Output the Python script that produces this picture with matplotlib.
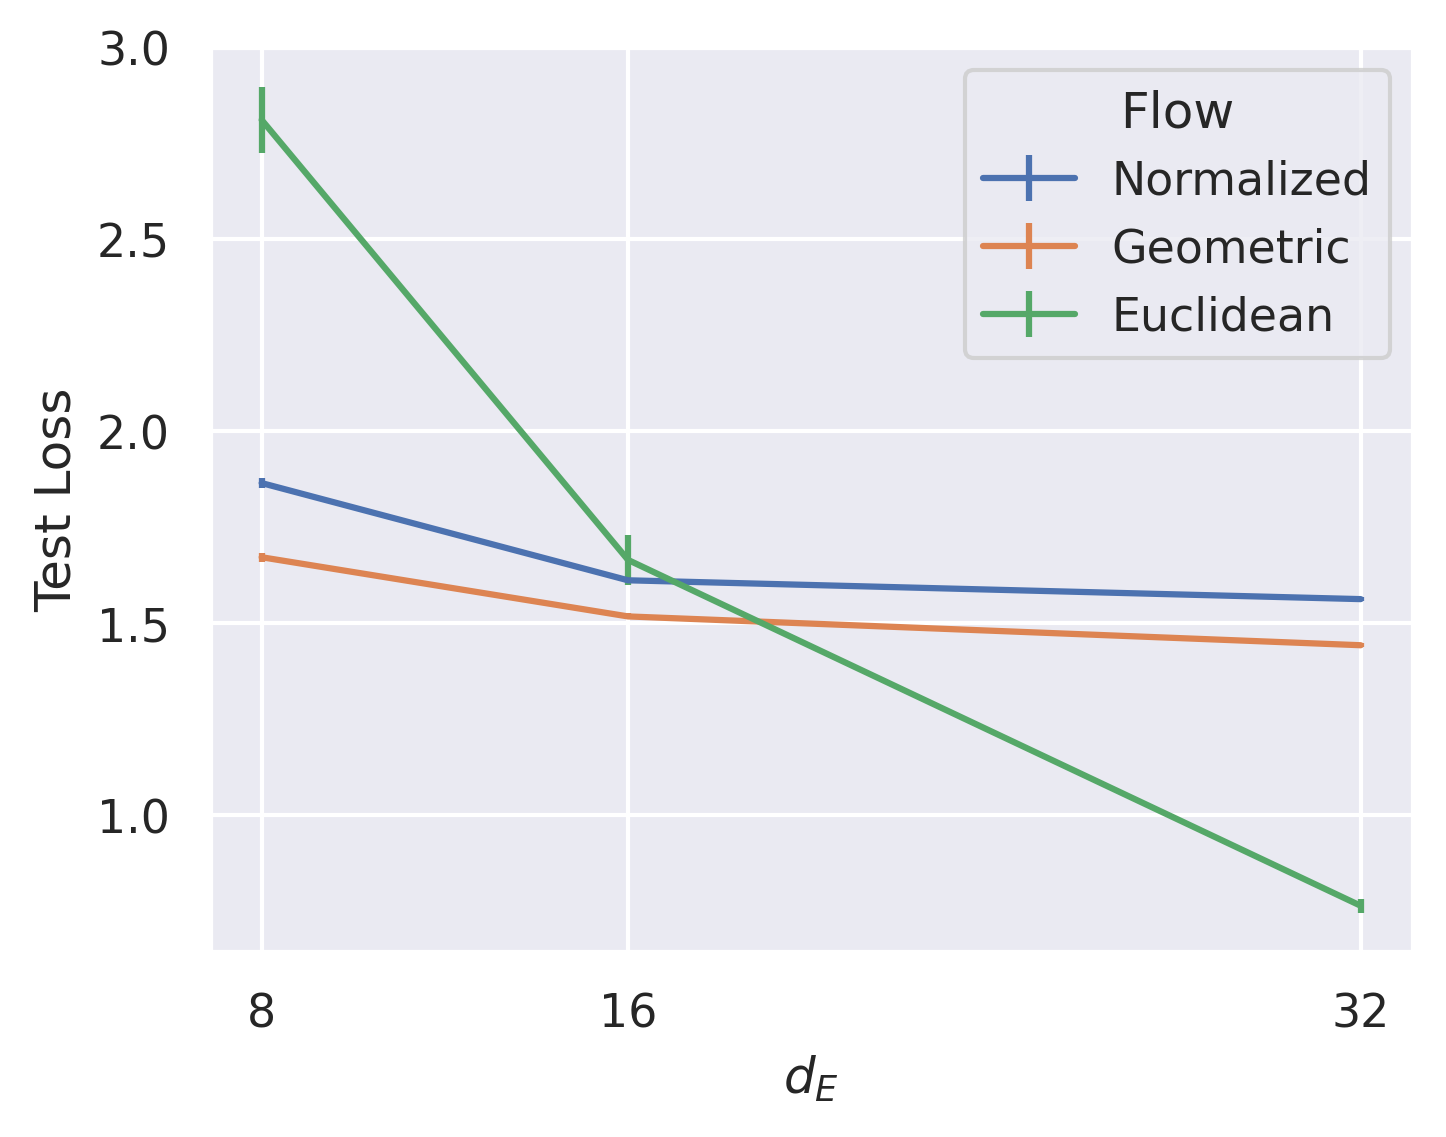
import matplotlib
matplotlib.use("Agg")
import matplotlib.pyplot as plt
import seaborn as sns
import numpy as np

sns.set_theme(style="darkgrid", context="notebook")

dims = [8, 16, 32]
normalized = [1.865, 1.612, 1.563]
normalized_err = [0.012, 0.006, 0.005]
geometric = [1.672, 1.518, 1.443]
geometric_err = [0.012, 0.008, 0.005]
euclidean = [2.81, 1.665, 0.765]
euclidean_err = [0.085, 0.065, 0.018]
names = ["Normalized", "Geometric", "Euclidean"]

fig = plt.figure(figsize=(4.82, 3.793), dpi=300)
ax = fig.add_axes([0.145, 0.163, 0.832, 0.795])
cols = sns.color_palette()
for i, (y, e, n) in enumerate(zip([normalized, geometric, euclidean],
                                  [normalized_err, geometric_err, euclidean_err], names)):
    ax.errorbar(dims, y, yerr=e, color=cols[i], label=n, lw=1.5, elinewidth=1.5, capsize=0)
ax.set_xticks(dims)
ax.set_xticklabels([str(d) for d in dims])
ax.set_xlim(6.865, 33.135)
ax.set_ylim(0.646, 3.0)
ax.set_xlabel("$d_E$")
ax.set_ylabel("Test Loss")
ax.legend(title="Flow", loc="upper right")
fig.savefig("out.png", dpi=300)
